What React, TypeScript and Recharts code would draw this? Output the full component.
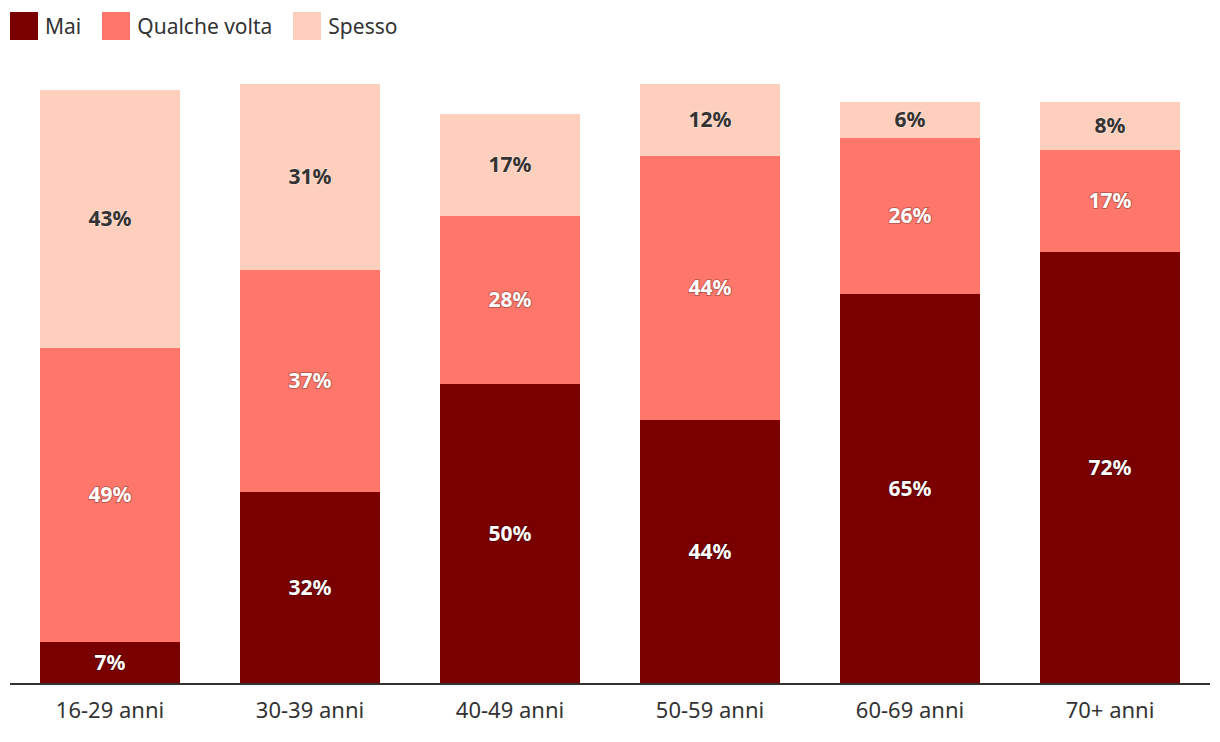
import { BarChart, Bar, XAxis, YAxis, LabelList } from 'recharts';

const categories = ['16-29 anni', '30-39 anni', '40-49 anni', '50-59 anni', '60-69 anni', '70+ anni'];
const mai = [7, 32, 50, 44, 65, 72];
const qualcheVolta = [49, 37, 28, 44, 26, 17];
const spesso = [43, 31, 17, 12, 6, 8];

const COLORS = { mai: '#7a0000', qualche: '#ff766a', spesso: '#ffcfbd' };
const FONT = '"Noto Sans", "Open Sans", sans-serif';

const data = categories.map((name, i) => ({
  name,
  mai: mai[i],
  qualche: qualcheVolta[i],
  spesso: spesso[i],
}));

const legendItems = [
  { label: 'Mai', color: COLORS.mai },
  { label: 'Qualche volta', color: COLORS.qualche },
  { label: 'Spesso', color: COLORS.spesso },
];

const fmt = (v: unknown) => `${v}%`;

export default function App() {
  const labelStyle = (fill: string, halo: string) => ({
    fill,
    fontSize: 21,
    fontWeight: 700,
    fontFamily: FONT,
    stroke: halo,
    strokeWidth: 2,
    paintOrder: 'stroke' as const,
    strokeOpacity: 0.25,
  });

  return (
    <div style={{ position: 'absolute', left: 0, top: 0, width: 1220, height: 742, background: '#fff', fontFamily: FONT }}>
      <style>{'body{margin:0}'}</style>
      <div style={{ position: 'absolute', left: 10, top: 12, display: 'flex', alignItems: 'center', color: '#333', fontSize: 21 }}>
        {legendItems.map((it) => (
          <span key={it.label} style={{ display: 'flex', alignItems: 'center', marginRight: 21 }}>
            <span style={{ width: 28, height: 28, background: it.color, marginRight: 7, display: 'inline-block' }} />
            {it.label}
          </span>
        ))}
      </div>
      <BarChart
        width={1220}
        height={742}
        data={data}
        margin={{ top: 84, right: 10, left: 10, bottom: 0 }}
        barCategoryGap="15%"
      >
        <XAxis
          dataKey="name"
          height={58}
          axisLine={{ stroke: '#333', strokeWidth: 2 }}
          tickLine={false}
          tickMargin={12}
          tick={{ fill: '#333', fontSize: 22, fontFamily: FONT }}
        />
        <YAxis hide domain={[0, 100]} />
        <Bar dataKey="mai" stackId="a" fill={COLORS.mai} isAnimationActive={false}>
          <LabelList dataKey="mai" position="center" formatter={fmt} style={labelStyle('#fff', '#000')} />
        </Bar>
        <Bar dataKey="qualche" stackId="a" fill={COLORS.qualche} isAnimationActive={false}>
          <LabelList dataKey="qualche" position="center" formatter={fmt} style={labelStyle('#fff', '#000')} />
        </Bar>
        <Bar dataKey="spesso" stackId="a" fill={COLORS.spesso} isAnimationActive={false}>
          <LabelList dataKey="spesso" position="center" formatter={fmt} style={labelStyle('#333', '#fff')} />
        </Bar>
      </BarChart>
    </div>
  );
}
